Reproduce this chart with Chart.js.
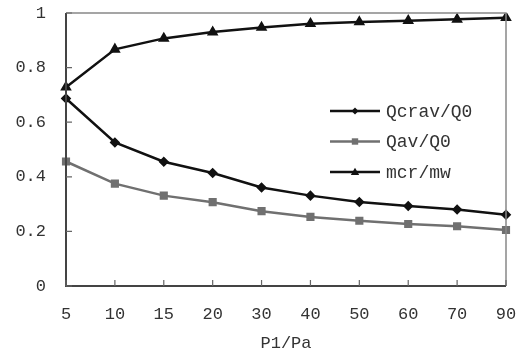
<!DOCTYPE html>
<html lang="en">
<head>
    <meta charset="UTF-8">
    <title>P1/Pa chart</title>
    <script src="https://cdn.jsdelivr.net/npm/chart.js@4.4.0/dist/chart.umd.min.js"></script>
    <style>
        body { margin: 0; background: #fff; }
    </style>
</head>
<body>
    <canvas id="lineChart" width="522" height="354"></canvas>

    <script>
        var pressure = ['5', '10', '15', '20', '30', '40', '50', '60', '70', '90'];
        var qcrav = [0.687, 0.526, 0.455, 0.414, 0.361, 0.331, 0.308, 0.293, 0.280, 0.261];
        var qav = [0.456, 0.375, 0.331, 0.307, 0.274, 0.253, 0.239, 0.227, 0.219, 0.205];
        var mcr = [0.728, 0.867, 0.907, 0.930, 0.947, 0.961, 0.967, 0.972, 0.977, 0.983];
        var yTicks = [0, 0.2, 0.4, 0.6, 0.8, 1];

        var font = 'Liberation Mono';

        // ticks pointing into the plot, frame lines, and the legend inside the plot
        var framePlugin = {
            id: 'frame',
            afterDraw: function (chart) {
                var ctx = chart.ctx;
                var a = chart.chartArea;
                var xs = chart.scales.x, ys = chart.scales.y;
                ctx.save();
                ctx.strokeStyle = '#888';
                ctx.lineWidth = 1.5;
                ctx.beginPath();
                ctx.moveTo(a.left, a.top);
                ctx.lineTo(a.right, a.top);
                ctx.lineTo(a.right, a.bottom);
                ctx.stroke();

                ctx.strokeStyle = '#444';
                ctx.lineWidth = 2;
                ctx.beginPath();
                ctx.moveTo(a.left, a.top);
                ctx.lineTo(a.left, a.bottom);
                ctx.lineTo(a.right, a.bottom);
                ctx.stroke();

                ctx.lineWidth = 1.2;
                ctx.strokeStyle = '#666';
                ctx.beginPath();
                yTicks.forEach(function (v) {
                    var y = ys.getPixelForValue(v);
                    ctx.moveTo(a.left, y);
                    ctx.lineTo(a.left + 6, y);
                });
                pressure.forEach(function (p, i) {
                    var x = xs.getPixelForValue(i);
                    ctx.moveTo(x, a.bottom);
                    ctx.lineTo(x, a.bottom - 6);
                });
                ctx.stroke();

                // legend
                ctx.font = '18px "' + font + '"';
                ctx.textBaseline = 'middle';
                chart.data.datasets.forEach(function (ds, i) {
                    var y = 111 + i * 30.5;
                    ctx.strokeStyle = ds.borderColor;
                    ctx.lineWidth = 2.5;
                    ctx.beginPath();
                    ctx.moveTo(330, y);
                    ctx.lineTo(380, y);
                    ctx.stroke();
                    ctx.fillStyle = ds.borderColor;
                    ctx.beginPath();
                    var r = ds.pointRadius;
                    if (ds.pointStyle === 'rectRot') {
                        ctx.moveTo(355, y - r); ctx.lineTo(355 + r, y);
                        ctx.lineTo(355, y + r); ctx.lineTo(355 - r, y);
                    } else if (ds.pointStyle === 'rect') {
                        ctx.rect(355 - r * 0.8, y - r * 0.8, r * 1.6, r * 1.6);
                    } else {
                        ctx.moveTo(355, y - r); ctx.lineTo(355 + r, y + r * 0.7);
                        ctx.lineTo(355 - r, y + r * 0.7);
                    }
                    ctx.closePath();
                    ctx.fill();
                    ctx.fillStyle = '#333';
                    ctx.fillText(ds.label, 386, y + 1);
                });
                ctx.restore();
            }
        };

        var ctx = document.getElementById('lineChart').getContext('2d');
        var lineChart = new Chart(ctx, {
            type: 'line',
            data: {
                labels: pressure,
                datasets: [{
                    label: 'Qcrav/Q0',
                    data: qcrav,
                    borderColor: '#111',
                    backgroundColor: '#111',
                    borderWidth: 2.5,
                    pointStyle: 'rectRot',
                    pointRadius: 3.5
                }, {
                    label: 'Qav/Q0',
                    data: qav,
                    borderColor: '#707070',
                    backgroundColor: '#707070',
                    borderWidth: 2.5,
                    pointStyle: 'rect',
                    pointRadius: 4
                }, {
                    label: 'mcr/mw',
                    data: mcr,
                    borderColor: '#111',
                    backgroundColor: '#111',
                    borderWidth: 2.5,
                    pointStyle: 'triangle',
                    pointRadius: 4.2
                }]
            },
            options: {
                responsive: false,
                devicePixelRatio: 1,
                animation: false,
                layout: { padding: { top: 13, right: 16, left: 0, bottom: 0 } },
                plugins: {
                    legend: { display: false },
                    tooltip: { enabled: false }
                },
                scales: {
                    x: {
                        offset: false,
                        grid: { display: false, drawTicks: false },
                        border: { display: false },
                        ticks: {
                            color: '#333',
                            padding: 18,
                            maxRotation: 0,
                            font: { family: font, size: 17 }
                        },
                        title: {
                            display: true,
                            text: 'P1/Pa',
                            color: '#333',
                            padding: { top: 5, bottom: 0 },
                            font: { family: font, size: 17 }
                        },
                        afterFit: function (s) {
                            s.height = 68;
                            s.paddingLeft = 0;
                            s.paddingRight = 0;
                        }
                    },
                    y: {
                        min: 0,
                        max: 1,
                        afterBuildTicks: function (s) {
                            s.ticks = yTicks.map(function (v) { return { value: v }; });
                        },
                        grid: { display: false, drawTicks: false },
                        border: { display: false },
                        ticks: {
                            color: '#333',
                            padding: 20,
                            font: { family: font, size: 17 },
                            callback: function (v) { return v === 0 || v === 1 ? String(v) : v.toFixed(1); }
                        },
                        afterFit: function (s) {
                            s.width = 66;
                            s.paddingTop = 0;
                            s.paddingBottom = 0;
                        }
                    }
                }
            },
            plugins: [framePlugin]
        });
    </script>
</body>
</html>
